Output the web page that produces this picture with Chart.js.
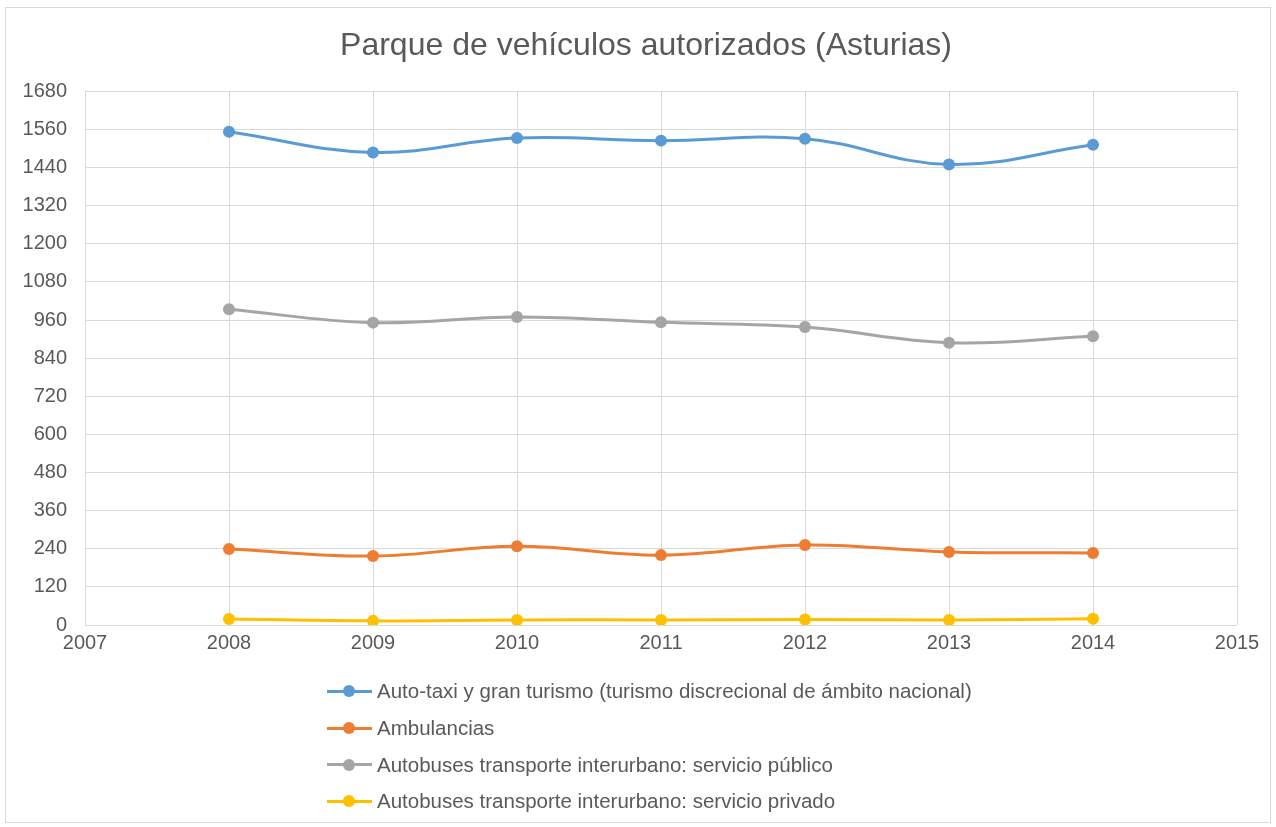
<!DOCTYPE html>
<html>
<head>
<meta charset="utf-8">
<script src="https://cdn.jsdelivr.net/npm/chart.js@4"></script>
<style>
  html, body { margin: 0; padding: 0; background: #fff; }
  #wrap { position: relative; width: 1276px; height: 827px; }
  #frame { position: absolute; left: 5px; top: 7px; width: 1264px; height: 814px; border: 1px solid #d9d9d9; pointer-events: none; }
  #legend { position: absolute; left: 327px; top: 673px; font-family: "Liberation Sans", Arial, sans-serif; font-size: 20.5px; color: #595959; }
  .item { height: 36.7px; display: flex; align-items: center; }
  .sw { position: relative; width: 45px; height: 12px; margin-right: 5px; }
  .sw .ln { position: absolute; left: 0; right: 0; top: 4.5px; height: 3px; }
  .sw .dt { position: absolute; left: 16px; top: 0; width: 12px; height: 12px; border-radius: 50%; }
</style>
</head>
<body>
<div id="wrap">
  <canvas id="c" width="1276" height="827"></canvas>
  <div id="frame"></div>
  <div id="legend"></div>
</div>
<script>
const years = [2008, 2009, 2010, 2011, 2012, 2013, 2014];
const seriesNames = [
  "Auto-taxi y gran turismo (turismo discrecional de ámbito nacional)",
  "Ambulancias",
  "Autobuses transporte interurbano: servicio público",
  "Autobuses transporte interurbano: servicio privado"
];
const autoTaxi = [1553, 1488, 1533, 1525, 1531, 1450, 1512];
const ambulancias = [239, 217, 248, 220, 252, 230, 227];
const busPublico = [994, 952, 970, 953, 938, 889, 909];
const busPrivado = [19, 13, 16, 16, 17, 16, 20];
const colors = ["#5B9BD5", "#ED7D31", "#A5A5A5", "#FFC000"];
const yTicks = [0, 120, 240, 360, 480, 600, 720, 840, 960, 1080, 1200, 1320, 1440, 1560, 1680];
const xTicks = [2007, 2008, 2009, 2010, 2011, 2012, 2013, 2014, 2015];
const title = "Parque de vehículos autorizados (Asturias)";

const allSeries = [autoTaxi, ambulancias, busPublico, busPrivado];
const FONT = '"Liberation Sans", Arial, sans-serif';

const datasets = allSeries.map((vals, i) => ({
  label: seriesNames[i],
  data: years.map((y, j) => ({ x: y, y: vals[j] })),
  borderColor: colors[i],
  backgroundColor: colors[i],
  borderWidth: 3,
  pointRadius: 6,
  pointBorderWidth: 0,
  tension: 0.4,
  fill: false,
  yAxisID: 'y'
}));

new Chart(document.getElementById('c'), {
  type: 'line',
  data: { datasets },
  options: {
    responsive: false,
    animation: false,
    layout: { padding: { left: 16, right: 0, top: 0, bottom: 0 } },
    plugins: {
      legend: { display: false },
      tooltip: { enabled: false },
      title: {
        display: true,
        text: title,
        color: '#595959',
        font: { family: FONT, size: 32, weight: 'normal' },
        padding: { top: 27, bottom: 26 }
      }
    },
    scales: {
      x: {
        type: 'linear',
        min: xTicks[0],
        max: xTicks[xTicks.length - 1],
        afterBuildTicks: s => { s.ticks = xTicks.map(v => ({ value: v })); },
        afterFit: s => { s.height = 202; },
        ticks: { color: '#595959', font: { family: FONT, size: 20 }, padding: 6, callback: v => String(v) },
        grid: { color: '#d9d9d9', drawTicks: false, lineWidth: 1 },
        border: { display: false }
      },
      y: {
        position: 'left',
        min: 0,
        max: 1680,
        afterBuildTicks: s => { s.ticks = yTicks.map(v => ({ value: v })); },
        afterFit: s => { s.width = 69; },
        ticks: { color: '#595959', font: { family: FONT, size: 20 }, padding: 18, callback: v => String(v) },
        grid: { color: '#d9d9d9', drawTicks: false, lineWidth: 1 },
        border: { display: true, color: '#d9d9d9' }
      },
      ySpacer: {
        position: 'right',
        min: 0,
        max: 1,
        afterFit: s => { s.width = 39; },
        ticks: { display: false },
        grid: { display: false, drawTicks: false },
        border: { display: false }
      }
    }
  }
});

const lg = document.getElementById('legend');
seriesNames.forEach((n, i) => {
  const d = document.createElement('div');
  d.className = 'item';
  d.innerHTML = '<div class="sw"><div class="ln" style="background:' + colors[i] + '"></div><div class="dt" style="background:' + colors[i] + '"></div></div><span></span>';
  d.querySelector('span').textContent = n;
  lg.appendChild(d);
});
</script>
</body>
</html>
